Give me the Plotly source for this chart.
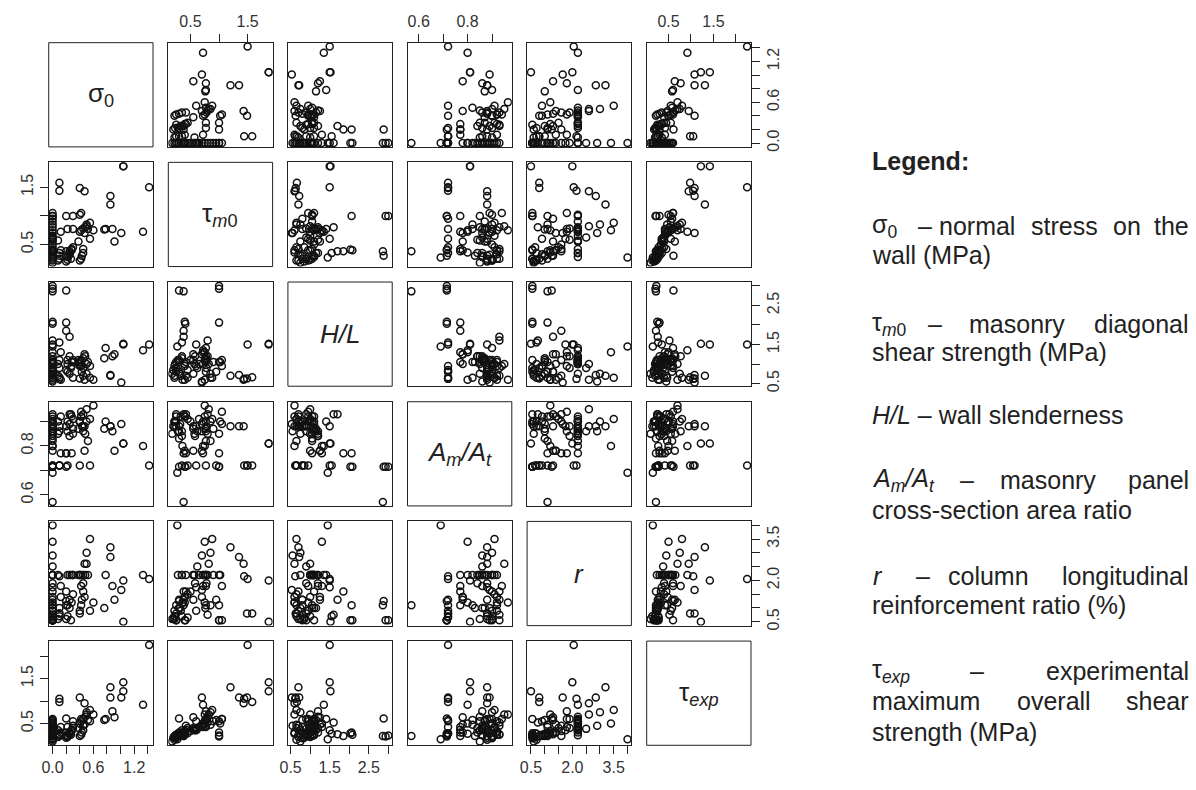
import plotly.graph_objects as go

# ---------------- data (one entry per wall test) ----------------
sigma0 = [1.42, 1.04, 1.04, 0.85, 0.85, 1.01, 1.33, 0.40, 0.47, 0.10, 0.10, 0.88, 0.91, 0.78, 0.76,
          0.00, 0.00, 0.20, 0.00, 0.00, 0.00, 0.20, 0.20, 0.25,
          0, 0, 0, 0, 0, 0, 0, 0, 0, 0, 0, 0, 0, 0, 0, 0, 0, 0, 0, 0, 0, 0,
          0.08, 0.10, 0.10, 0.12, 0.08, 0.12, 0.10,
          0.20, 0.22, 0.22, 0.25, 0.25, 0.28, 0.28, 0.30, 0.30, 0.22, 0.30, 0.27,
          0.40, 0.42, 0.43, 0.45, 0.45, 0.40, 0.42, 0.45, 0.48, 0.50, 0.50, 0.52, 0.55, 0.47, 0.40, 0.42, 0.60, 0.38, 0.55]
tau_m0 = [1.50, 1.87, 1.87, 1.20, 1.35, 0.70, 0.72, 1.49, 1.43, 1.44, 1.58, 0.77, 0.55, 0.77, 0.76,
          1.00, 1.00, 0.30, 0.38, 0.40, 0.41, 1.00, 0.38, 0.38,
          0.18, 0.22, 0.25, 0.27, 0.30, 0.33, 0.36, 0.40, 0.45, 0.50, 0.55, 0.58, 0.62, 0.65, 0.70, 0.75, 0.80, 0.85, 0.90, 0.95, 1.05, 0.60,
          0.22, 0.25, 0.30, 0.40, 0.57, 0.72, 0.35,
          0.20, 0.23, 0.28, 0.32, 0.35, 0.40, 0.42, 0.45, 0.77, 0.77, 1.00, 0.25,
          0.22, 0.25, 0.30, 0.35, 0.42, 0.72, 0.75, 0.78, 0.80, 0.82, 0.85, 0.77, 0.88, 0.70, 1.02, 1.05, 0.75, 0.55, 0.60]
h_over_l = [1.50, 1.50, 1.52, 0.70, 0.72, 0.53, 1.35, 0.63, 0.60, 0.62, 0.66, 1.20, 1.25, 1.41, 1.15,
            3.00, 2.93, 2.88, 2.86, 2.08, 2.03, 2.06, 1.85, 1.70,
            0.75, 0.65, 0.80, 1.45, 1.05, 0.70, 0.60, 1.00, 0.85, 1.10, 0.75, 1.20, 0.90, 1.00, 0.55, 1.30, 1.60, 0.65, 1.05, 0.80, 1.10, 1.50,
            0.70, 0.90, 1.10, 0.60, 1.00, 1.30, 1.55,
            0.85, 1.00, 1.10, 0.75, 1.20, 0.95, 1.05, 0.65, 1.10, 0.80, 1.05, 0.90,
            0.95, 1.05, 0.80, 1.15, 0.70, 1.00, 1.10, 0.90, 1.20, 1.00, 0.75, 1.05, 0.65, 1.25, 1.05, 0.95, 0.60, 1.10, 0.95]
am_at = [0.72, 0.81, 0.81, 0.88, 0.88, 0.89, 0.80, 0.72, 0.88, 0.72, 0.72, 0.86, 0.78, 0.90, 0.87,
         0.715, 0.715, 0.715, 0.57, 0.715, 0.715, 0.77, 0.77, 0.93,
         0.85, 0.88, 0.90, 0.69, 0.83, 0.92, 0.80, 0.78, 0.72, 0.90, 0.88, 0.84, 0.86, 0.91, 0.86, 0.80, 0.93, 0.82, 0.87, 0.72, 0.89, 0.88,
         0.90, 0.88, 0.86, 0.92, 0.85, 0.77, 0.72,
         0.88, 0.90, 0.86, 0.89, 0.84, 0.92, 0.77, 0.91, 0.87, 0.72, 0.85, 0.93,
         0.90, 0.92, 0.88, 0.86, 0.93, 0.90, 0.92, 0.88, 0.85, 0.95, 0.90, 0.82, 0.91, 0.78, 0.90, 0.94, 0.965, 0.87, 0.72]
r_ratio = [2.05, 2.00, 0.50, 3.20, 2.85, 1.65, 2.20, 0.80, 2.60, 2.15, 0.80, 1.80, 1.30, 2.20, 1.00,
           0.55, 0.55, 1.25, 1.10, 0.55, 0.55, 1.10, 1.60, 1.30,
           0.60, 0.70, 0.55, 4.00, 1.00, 0.90, 1.20, 1.40, 0.65, 1.60, 2.20, 1.90, 2.50, 2.20, 2.90, 3.40, 0.75, 1.10, 2.20, 1.30, 0.55, 1.75,
           0.60, 0.80, 1.00, 1.40, 2.20, 1.80, 0.70,
           0.60, 0.70, 2.20, 1.00, 2.20, 1.20, 2.20, 1.50, 2.20, 1.10, 2.20, 0.55,
           0.90, 1.10, 1.30, 2.20, 1.60, 2.20, 2.20, 1.90, 2.20, 2.60, 3.00, 2.20, 3.50, 1.40, 2.20, 1.80, 1.20, 2.20, 0.90]
tau_exp = [2.25, 1.42, 1.22, 1.31, 1.08, 1.08, 0.92, 1.08, 0.95, 1.05, 0.98, 0.77, 0.64, 0.60, 0.58,
           0.23, 0.21, 0.61, 0.22, 0.25, 0.28, 0.30, 0.22, 0.26,
           0.10, 0.14, 0.17, 0.15, 0.22, 0.25, 0.27, 0.30, 0.28, 0.33, 0.36, 0.40, 0.38, 0.42, 0.45, 0.50, 0.52, 0.47, 0.55, 0.58, 0.60, 0.35,
           0.20, 0.22, 0.25, 0.30, 0.35, 0.42, 0.27,
           0.18, 0.20, 0.24, 0.27, 0.30, 0.33, 0.36, 0.40, 0.45, 0.42, 0.55, 0.25,
           0.22, 0.25, 0.30, 0.35, 0.45, 0.50, 0.55, 0.60, 0.65, 0.70, 0.75, 0.58, 0.80, 0.48, 0.50, 0.60, 0.70, 0.40, 0.55]

var_labels = ['σ<sub>0</sub>', 'τ<sub><i>m</i>0</sub>', '<i>H/L</i>',
              '<i>A<sub>m</sub>/A<sub>t</sub></i>', '<i>r</i>', 'τ<sub><i>exp</i></sub>']

# all tick marks, and the subset that carries a label
sigma_ticks = [0.0, 0.2, 0.4, 0.6, 0.8, 1.0, 1.2, 1.4]
sigma_labels = [0.0, 0.6, 1.2]
tau_m0_ticks = [0.5, 1.0, 1.5]
tau_m0_labels = [0.5, 1.5]
hl_ticks = [0.5, 1.0, 1.5, 2.0, 2.5, 3.0]
hl_labels = [0.5, 1.5, 2.5]
am_ticks = [0.6, 0.7, 0.8, 0.9]
am_labels = [0.6, 0.8]
r_ticks = [0.5, 1.0, 1.5, 2.0, 2.5, 3.0, 3.5, 4.0]
r_labels = [0.5, 2.0, 3.5]
tau_exp_ticks = [0.5, 1.0, 1.5, 2.0]
tau_exp_labels = [0.5, 1.5]

variables = [sigma0, tau_m0, h_over_l, am_at, r_ratio, tau_exp]
all_ticks = [sigma_ticks, tau_m0_ticks, hl_ticks, am_ticks, r_ticks, tau_exp_ticks]
all_labels = [sigma_labels, tau_m0_labels, hl_labels, am_labels, r_labels, tau_exp_labels]

n_obs = len(sigma0)
assert all(len(v) == n_obs for v in variables)

# ---------------- layout geometry ----------------
W, H = 1196, 790
X0, Y0 = 41, 43
STEP_X, STEP_Y = 120.4, 120.6
SIZE = 105
FONT = 'Liberation Sans, Arial, Helvetica, sans-serif'
INK = '#222222'
TICKLEN = 8

def rng(v):
    lo, hi = min(v), max(v)
    pad = 0.04 * (hi - lo)
    return [lo - pad, hi + pad]

fig = go.Figure()
layout_axes = {}
annotations = []
shapes = []

for i in range(6):          # row -> y variable
    for j in range(6):      # column -> x variable
        k = i * 6 + j + 1
        sfx = '' if k == 1 else str(k)
        x0 = X0 + STEP_X * j
        y0 = Y0 + STEP_Y * i

        show_x = (i == 0 and j % 2 == 1) or (i == 5 and j % 2 == 0)
        show_y = (j == 0 and i % 2 == 1) or (j == 5 and i % 2 == 0)

        layout_axes['xaxis' + sfx] = dict(
            domain=[x0 / W, (x0 + SIZE) / W], anchor='y' + sfx,
            range=rng(variables[j]), showgrid=False, zeroline=False,
            showline=True, mirror=True, linecolor=INK, linewidth=1,
            tickmode='array', tickvals=all_labels[j],
            ticktext=['%.1f' % v for v in all_labels[j]],
            ticks='outside' if show_x else '', ticklen=TICKLEN, tickwidth=1, tickcolor=INK,
            minor=dict(tickvals=all_ticks[j], ticks='outside' if show_x else '',
                       ticklen=TICKLEN, tickwidth=1, tickcolor=INK, showgrid=False),
            showticklabels=show_x, side='top' if i == 0 else 'bottom',
            tickfont=dict(family=FONT, size=16, color='#333333'),
            fixedrange=True,
        )
        layout_axes['yaxis' + sfx] = dict(
            domain=[1 - (y0 + SIZE) / H, 1 - y0 / H], anchor='x' + sfx,
            range=rng(variables[i]), showgrid=False, zeroline=False,
            showline=True, mirror=True, linecolor=INK, linewidth=1,
            tickmode='array', tickvals=all_labels[i],
            ticktext=['%.1f' % v for v in all_labels[i]],
            ticks='outside' if show_y else '', ticklen=TICKLEN, tickwidth=1, tickcolor=INK,
            minor=dict(tickvals=all_ticks[i], ticks='outside' if show_y else '',
                       ticklen=TICKLEN, tickwidth=1, tickcolor=INK, showgrid=False),
            showticklabels=show_y, side='right' if j == 5 else 'left',
            tickangle=-90,
            tickfont=dict(family=FONT, size=16, color='#333333'),
            fixedrange=True,
        )

        if i == j:
            annotations.append(dict(
                x=(x0 + SIZE / 2) / W, y=1 - (y0 + SIZE / 2) / H,
                xref='paper', yref='paper', text=var_labels[i], showarrow=False,
                font=dict(family=FONT, size=26, color=INK),
                xanchor='center', yanchor='middle'))
            shapes.append(dict(
                type='rect', xref='paper', yref='paper',
                x0=x0 / W, x1=(x0 + SIZE) / W,
                y0=1 - (y0 + SIZE) / H, y1=1 - y0 / H,
                line=dict(color=INK, width=1), fillcolor='rgba(0,0,0,0)'))
        else:
            fig.add_trace(go.Scatter(
                x=variables[j], y=variables[i], mode='markers',
                xaxis='x' + sfx, yaxis='y' + sfx, showlegend=False, hoverinfo='skip',
                marker=dict(symbol='circle-open', size=7, color='#111111',
                            line=dict(width=1.5, color='#111111'))))

# ---------------- legend text block (justified by word placement) ----------------
legend_lines = [
    (162, [('<b>Legend:</b>', 869, 'left')]),
    (228, [('σ<sub>0</sub>', 869, 'left'), ('–', 915, 'left'), ('normal', 936, 'left'),
           ('stress', 1029, 'left'), ('on', 1111, 'left'), ('the', 1190, 'right')]),
    (257, [('wall (MPa)', 869, 'left')]),
    (326, [('τ<sub><i>m</i>0</sub>', 869, 'left'), ('–', 925, 'left'),
           ('masonry', 966, 'left'), ('diagonal', 1190, 'right')]),
    (355, [('shear strength (MPa)', 869, 'left')]),
    (418, [('<i>H/L</i> – wall slenderness', 869, 'left')]),
    (484, [('<i>A<sub>m</sub>/A<sub>t</sub></i>', 869, 'left'), ('–', 957, 'left'),
           ('masonry', 998, 'left'), ('panel', 1190, 'right')]),
    (514, [('cross-section area ratio', 869, 'left')]),
    (580, [('<i>r</i>', 870, 'left'), ('–', 913, 'left'), ('column', 945, 'left'),
           ('longitudinal', 1190, 'right')]),
    (610, [('reinforcement ratio (%)', 869, 'left')]),
    (676, [('τ<sub><i>exp</i></sub>', 869, 'left'), ('–', 967, 'left'),
           ('experimental', 1190, 'right')]),
    (706, [('maximum', 869, 'left'), ('overall', 1015, 'left'), ('shear', 1190, 'right')]),
    (738, [('strength (MPa)', 869, 'left')]),
]
for ypx, words in legend_lines:
    for text, xpx, anchor in words:
        annotations.append(dict(
            x=xpx / W, y=1 - ypx / H, xref='paper', yref='paper', text=text,
            showarrow=False, xanchor=anchor, yanchor='middle', borderpad=0,
            font=dict(family=FONT, size=25, color=INK)))

fig.update_layout(
    width=W, height=H, margin=dict(l=0, r=0, t=0, b=0),
    paper_bgcolor='white', plot_bgcolor='white',
    annotations=annotations, shapes=shapes, showlegend=False, **layout_axes)

fig.write_html('out.html', config={'displayModeBar': False},
               post_script="document.body.style.margin='0';document.body.style.overflow='hidden';")
